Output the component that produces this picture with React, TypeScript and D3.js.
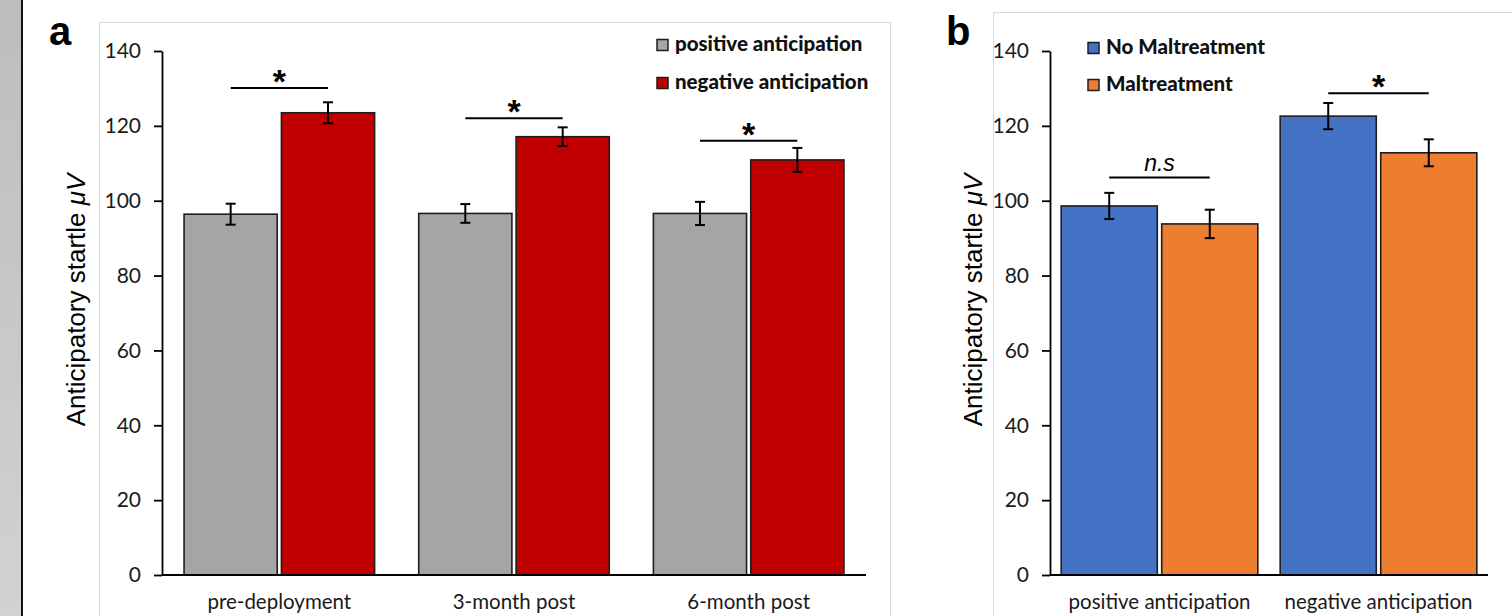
import React, { useEffect, useRef } from "react";
import * as d3 from "d3";

// ---------- data ----------
const catsA = ["pre-deployment", "3-month post", "6-month post"];
const seriesA = ["positive anticipation", "negative anticipation"];
const positiveA = [96.4, 96.6, 96.6];
const negativeA = [123.5, 117.1, 110.9];
const positiveErrA = [2.8, 2.5, 3.1];
const negativeErrA = [2.8, 2.5, 3.2];
const sigLabelA = ["*", "*", "*"];
const sigLevelA = [130.1, 122.0, 116.0];

const catsB = ["positive anticipation", "negative anticipation"];
const seriesB = ["No Maltreatment", "Maltreatment"];
const noMalB = [98.6, 122.6];
const malB = [93.8, 112.8];
const noMalErrB = [3.5, 3.5];
const malErrB = [3.8, 3.6];
const sigLabelB = ["n.s", "*"];
const sigLevelB = [106.2, 128.7];

const yTicks = [0, 20, 40, 60, 80, 100, 120, 140];
const yMax = 140;

const colorsA = ["#A5A5A5", "#C00000"];
const colorsB = ["#4472C4", "#ED7D31"];

const W = 1512;
const H = 616;

const LATO = "Lato, 'Open Sans', sans-serif";
const ARIAL = "'Liberation Sans', Arial, sans-serif";

type Panel = {
  letter: string;
  letterX: number;
  letterY: number;
  frame: [number, number, number];
  xRange: [number, number];
  padOuter: number;
  padInner: number;
  titleX: number;
  cats: string[];
  series: string[];
  values: number[][];
  errs: number[][];
  colors: string[];
  sigLabels: string[];
  sigLevels: number[];
  legendX: number;
  legendY: number[];
};

function drawPanel(svg: d3.Selection<SVGSVGElement, unknown, null, undefined>, p: Panel) {
  const y = d3.scaleLinear().domain([0, yMax]).range([575, 51]);
  const x0 = d3
    .scaleBand<string>()
    .domain(p.cats)
    .range(p.xRange)
    .paddingInner(p.padOuter * 2)
    .paddingOuter(p.padOuter);
  const x1 = d3
    .scaleBand<string>()
    .domain(p.series)
    .range([0, x0.bandwidth()])
    .paddingInner(p.padInner);

  const g = svg.append("g");

  // frame
  g.append("rect")
    .attr("x", p.frame[0] + 0.5)
    .attr("y", p.frame[1] + 0.5)
    .attr("width", p.frame[2])
    .attr("height", 800)
    .attr("fill", "#ffffff")
    .attr("stroke", "#d9d9d9")
    .attr("stroke-width", 1);

  // panel letter
  g.append("text")
    .attr("x", p.letterX)
    .attr("y", p.letterY)
    .attr("font-family", ARIAL)
    .attr("font-weight", "bold")
    .attr("font-size", 40)
    .attr("fill", "#000")
    .text(p.letter);

  // bars
  p.series.forEach((s, si) => {
    p.cats.forEach((c, ci) => {
      const v = p.values[si][ci];
      const bx = (x0(c) as number) + (x1(s) as number);
      g.append("rect")
        .attr("x", bx)
        .attr("y", y(v))
        .attr("width", x1.bandwidth())
        .attr("height", y(0) - y(v))
        .attr("fill", p.colors[si])
        .attr("stroke", "#1e1e1e")
        .attr("stroke-width", 1.6);
    });
  });

  // error bars
  p.series.forEach((s, si) => {
    p.cats.forEach((c, ci) => {
      const v = p.values[si][ci];
      const e = p.errs[si][ci];
      const cx = (x0(c) as number) + (x1(s) as number) + x1.bandwidth() / 2;
      const eg = g.append("g").attr("stroke", "#000").attr("stroke-width", 2);
      eg.append("line").attr("x1", cx).attr("x2", cx).attr("y1", y(v + e)).attr("y2", y(v - e));
      eg.append("line").attr("x1", cx - 5).attr("x2", cx + 5).attr("y1", y(v + e)).attr("y2", y(v + e));
      eg.append("line").attr("x1", cx - 5).attr("x2", cx + 5).attr("y1", y(v - e)).attr("y2", y(v - e));
    });
  });

  // significance
  p.cats.forEach((c, ci) => {
    const xa = (x0(c) as number) + (x1(p.series[0]) as number) + x1.bandwidth() / 2;
    const xb = (x0(c) as number) + (x1(p.series[1]) as number) + x1.bandwidth() / 2;
    const ly = y(p.sigLevels[ci]);
    g.append("line")
      .attr("x1", xa)
      .attr("x2", xb)
      .attr("y1", ly)
      .attr("y2", ly)
      .attr("stroke", "#000")
      .attr("stroke-width", 2);
    const lab = p.sigLabels[ci];
    if (lab === "*") {
      g.append("text")
        .attr("x", (xa + xb) / 2)
        .attr("y", ly + 5)
        .attr("text-anchor", "middle")
        .attr("font-family", ARIAL)
        .attr("font-weight", "bold")
        .attr("font-size", 34)
        .attr("fill", "#000")
        .text("*");
    } else {
      g.append("text")
        .attr("x", (xa + xb) / 2)
        .attr("y", ly - 7)
        .attr("text-anchor", "middle")
        .attr("font-family", ARIAL)
        .attr("font-style", "italic")
        .attr("font-size", 23)
        .attr("fill", "#000")
        .text(lab);
    }
  });

  // y axis
  const ax = d3
    .axisLeft(y)
    .tickValues(yTicks)
    .tickSize(8)
    .tickSizeOuter(0)
    .tickPadding(13)
    .tickFormat((d) => String(d));
  const axG = g.append("g").attr("transform", `translate(${p.xRange[0]},0)`).call(ax);
  axG.select(".domain").attr("stroke", "#000").attr("stroke-width", 1.8);
  axG.selectAll(".tick line").attr("stroke", "#000").attr("stroke-width", 1.8);
  axG
    .selectAll(".tick text")
    .attr("font-family", LATO)
    .attr("font-size", 21)
    .attr("fill", "#1a1a1a");

  // x axis line
  g.append("line")
    .attr("x1", p.xRange[0])
    .attr("x2", p.xRange[1])
    .attr("y1", y(0))
    .attr("y2", y(0))
    .attr("stroke", "#000")
    .attr("stroke-width", 2);

  // category labels
  p.cats.forEach((c) => {
    g.append("text")
      .attr("x", (x0(c) as number) + x0.bandwidth() / 2)
      .attr("y", 609)
      .attr("text-anchor", "middle")
      .attr("font-family", LATO)
      .attr("font-size", 20.5)
      .attr("fill", "#1a1a1a")
      .text(c);
  });

  // y title
  const t = g
    .append("text")
    .attr("transform", `translate(${p.titleX},300) rotate(-90)`)
    .attr("text-anchor", "middle")
    .attr("font-family", ARIAL)
    .attr("font-size", 26)
    .attr("fill", "#000");
  t.append("tspan").text("Anticipatory startle ");
  t.append("tspan").attr("font-style", "italic").text("\u03BCV");

  // legend
  p.series.forEach((s, si) => {
    const ly = p.legendY[si];
    g.append("rect")
      .attr("x", p.legendX)
      .attr("y", ly - 11.5)
      .attr("width", 11)
      .attr("height", 11)
      .attr("fill", p.colors[si])
      .attr("stroke", "#1e1e1e")
      .attr("stroke-width", 1.5);
    g.append("text")
      .attr("x", p.legendX + 18)
      .attr("y", ly)
      .attr("font-family", LATO)
      .attr("font-weight", 900)
      .attr("font-size", 20.5)
      .attr("fill", "#111")
      .text(s);
  });
}

export default function App() {
  const ref = useRef<SVGSVGElement | null>(null);

  useEffect(() => {
    if (!ref.current) return;
    const svg = d3.select(ref.current);
    svg.selectAll("*").remove();

    svg.append("rect").attr("width", W).attr("height", H).attr("fill", "#fff");

    const defs = svg.append("defs");
    const grad = defs
      .append("linearGradient")
      .attr("id", "sideGrad")
      .attr("x1", 0)
      .attr("y1", 0)
      .attr("x2", 0)
      .attr("y2", 1);
    grad.append("stop").attr("offset", "0%").attr("stop-color", "#bdbdbd");
    grad.append("stop").attr("offset", "100%").attr("stop-color", "#d2d2d2");
    svg.append("rect").attr("x", 0).attr("y", 0).attr("width", 21).attr("height", H).attr("fill", "url(#sideGrad)");
    svg.append("rect").attr("x", 21).attr("y", 0).attr("width", 2).attr("height", H).attr("fill", "#111");

    drawPanel(svg, {
      letter: "a",
      letterX: 49,
      letterY: 45,
      frame: [99, 22, 791],
      xRange: [162, 866],
      padOuter: 0.094,
      padInner: 0.043,
      titleX: 85,
      cats: catsA,
      series: seriesA,
      values: [positiveA, negativeA],
      errs: [positiveErrA, negativeErrA],
      colors: colorsA,
      sigLabels: sigLabelA,
      sigLevels: sigLevelA,
      legendX: 657,
      legendY: [51, 89],
    });

    drawPanel(svg, {
      letter: "b",
      letterX: 946,
      letterY: 45,
      frame: [993, 12, 700],
      xRange: [1050, 1488],
      padOuter: 0.051,
      padInner: 0.044,
      titleX: 982,
      cats: catsB,
      series: seriesB,
      values: [noMalB, malB],
      errs: [noMalErrB, malErrB],
      colors: colorsB,
      sigLabels: sigLabelB,
      sigLevels: sigLevelB,
      legendX: 1088,
      legendY: [54, 91],
    });
  }, []);

  return (
    <svg
      ref={ref}
      width={W}
      height={H}
      style={{ position: "absolute", left: 0, top: 0, display: "block" }}
    />
  );
}
